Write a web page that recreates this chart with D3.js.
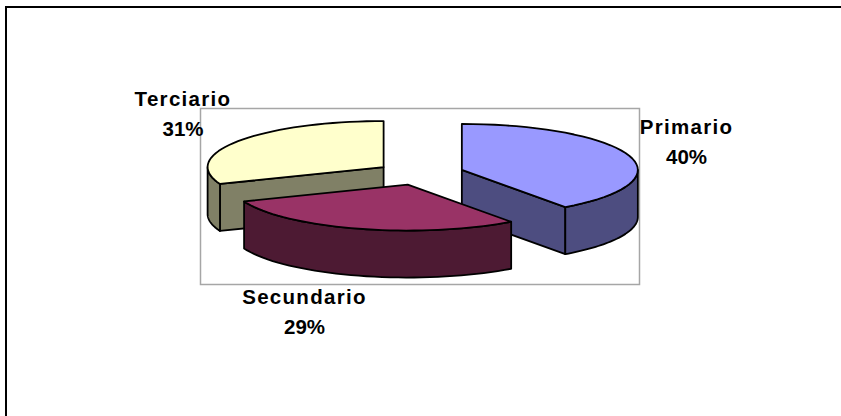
<!DOCTYPE html>
<html>
<head>
<meta charset="utf-8">
<script src="https://cdn.jsdelivr.net/npm/d3@7"></script>
<style>
html, body { margin: 0; padding: 0; background: #fff; }
svg { display: block; }
text { font-family: "Liberation Sans", Arial, sans-serif; font-weight: bold; font-size: 20.5px; fill: #000; }
.name { letter-spacing: 1.3px; }
</style>
</head>
<body>
<div id="chartContainer"></div>
<script>
const categories = ['Primario', 'Secundario', 'Terciario'];
const shares = [40, 29, 31];
const topColors = ['#9999ff', '#993366', '#ffffcc'];
const sideColors = ['#4d4d80', '#4d1a33', '#808066'];

const svgWidth = 841;
const svgHeight = 416;
const center = { x: 420, y: 173.5 };
const radius = { x: 176, y: 46 };
const depth = 47;
const explode = 0.25;

const svg = d3.select('#chartContainer')
    .append('svg')
    .attr('width', svgWidth)
    .attr('height', svgHeight);

// outer chart frame, only its top and left sides are in the picture
svg.append('path')
    .attr('d', `M6,${svgHeight}V7H${svgWidth}`)
    .attr('fill', 'none')
    .attr('stroke', '#000')
    .attr('stroke-width', 2);

// plot area frame
svg.append('rect')
    .attr('x', 200.5)
    .attr('y', 108.5)
    .attr('width', 439)
    .attr('height', 176)
    .attr('fill', 'none')
    .attr('stroke', '#a6a6a6')
    .attr('stroke-width', 1.5);

const slices = d3.pie().sort(null)(shares).map((d, i) => {
    const mid = (d.startAngle + d.endAngle) / 2;
    return {
        name: categories[i],
        value: d.value,
        start: d.startAngle,
        end: d.endAngle,
        top: topColors[i],
        side: sideColors[i],
        cx: center.x + Math.sin(mid) * explode * radius.x,
        cy: center.y - Math.cos(mid) * explode * radius.y
    };
});

const rimPoint = (s, a, drop) => [
    s.cx + Math.sin(a) * radius.x,
    s.cy - Math.cos(a) * radius.y + drop
];

const rim = (s, a0, a1, drop) => d3.range(0, 41)
    .map(k => rimPoint(s, a0 + (a1 - a0) * k / 40, drop));

const line = d3.line();

function addFace(points, fill) {
    svg.append('path')
        .attr('d', line(points) + 'Z')
        .attr('fill', fill)
        .attr('stroke', '#000')
        .attr('stroke-width', 1.8)
        .attr('stroke-linejoin', 'round');
}

function drawSlice(s) {
    const frontFrom = Math.max(s.start, Math.PI / 2);
    const frontTo = Math.min(s.end, Math.PI * 1.5);

    // cut faces that turn towards the viewer
    if (s.end < Math.PI) {
        addFace([[s.cx, s.cy], rimPoint(s, s.end, 0), rimPoint(s, s.end, depth), [s.cx, s.cy + depth]], s.side);
    }
    if (s.start > Math.PI) {
        addFace([[s.cx, s.cy], rimPoint(s, s.start, 0), rimPoint(s, s.start, depth), [s.cx, s.cy + depth]], s.side);
    }
    // outer wall
    if (frontTo > frontFrom) {
        addFace(rim(s, frontFrom, frontTo, 0).concat(rim(s, frontTo, frontFrom, depth)), s.side);
    }
    // top face
    addFace([[s.cx, s.cy]].concat(rim(s, s.start, s.end, 0)), s.top);
}

// back slices first so the front one overlaps them
[2, 0, 1].forEach(i => drawSlice(slices[i]));

const labelX = [686.5, 304.5, 183];
const labelY = [134, 304, 106];

slices.forEach((s, i) => {
    const label = svg.append('text')
        .attr('text-anchor', 'middle')
        .attr('x', labelX[i])
        .attr('y', labelY[i]);
    label.append('tspan').attr('class', 'name').attr('x', labelX[i]).text(s.name);
    label.append('tspan').attr('x', labelX[i]).attr('dy', 30).text(s.value + '%');
});
</script>
</body>
</html>
